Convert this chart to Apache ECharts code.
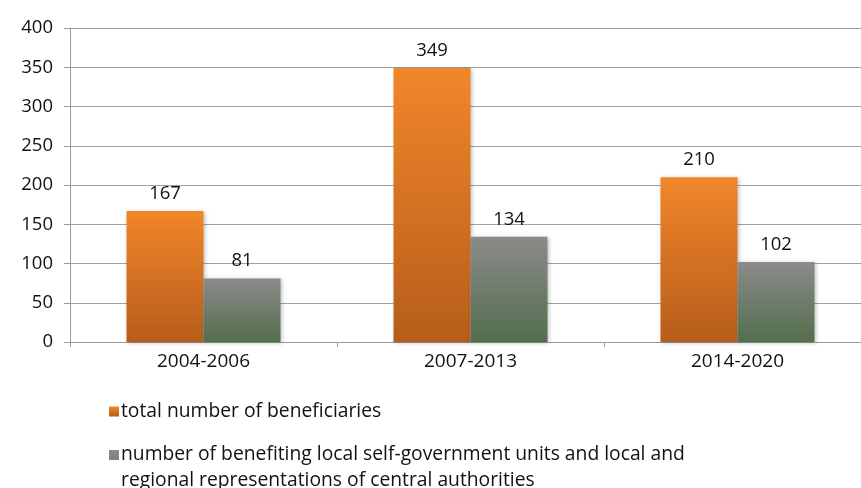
<!DOCTYPE html>
<html><head><meta charset="utf-8">
<script src="https://cdn.jsdelivr.net/npm/echarts@6/dist/echarts.min.js"></script>
<style>html,body{margin:0;padding:0;background:#fff}#c{width:861px;height:488px}</style>
</head><body><div id="c"></div>
<script>
const categories = ['2004-2006', '2007-2013', '2014-2020'];
const totalBeneficiaries = [167, 349, 210];
const localUnits = [81, 134, 102];
const seriesNames = ['total number of beneficiaries', 'number of benefiting local self-government units and local and regional representations of central authorities'];
const legendLines = ['number of benefiting local self-government units and local and', 'regional representations of central authorities'];
const yTicks = {min: 0, max: 400, interval: 50};

const font = '"Open Sans", "Noto Sans", sans-serif';
const chart = echarts.init(document.getElementById('c'), null, {renderer: 'canvas'});
const grad = (a, b) => new echarts.graphic.LinearGradient(0, 0, 0, 1, [{offset: 0, color: a}, {offset: 1, color: b}]);
chart.setOption({
  animation: false,
  grid: {left: 70, width: 801, top: 28, bottom: 146, containLabel: false, outerBoundsMode: 'none'},
  legend: [{
    data: [seriesNames[0]],
    left: 104, top: 397, orient: 'vertical',
    itemWidth: 10, itemHeight: 10, icon: 'rect',
    textStyle: {fontFamily: font, fontSize: 19.3, color: '#111', padding: [0, 0, 0, -3]}
  }, {
    data: [seriesNames[1]],
    left: 104, top: 437, orient: 'vertical',
    itemWidth: 10, itemHeight: 36,
    icon: 'path://M0,0h10v10h-10z M0,36h0.01v0.01z',
    formatter: () => legendLines.join('\n'),
    textStyle: {fontFamily: font, fontSize: 19.3, color: '#111', lineHeight: 26, padding: [0, 0, 0, -3]}
  }],
  xAxis: {
    type: 'category', data: categories,
    axisLine: {lineStyle: {color: '#9a9a9a', width: 1}},
    axisTick: {show: true, length: 5, lineStyle: {color: '#9a9a9a'}},
    axisLabel: {fontFamily: font, fontSize: 19, color: '#111', margin: 10}
  },
  yAxis: {
    type: 'value', min: yTicks.min, max: yTicks.max, interval: yTicks.interval,
    axisLine: {show: true, lineStyle: {color: '#9a9a9a', width: 1}},
    axisTick: {show: true, length: 6, lineStyle: {color: '#9a9a9a'}},
    splitLine: {lineStyle: {color: '#a0a0a0', width: 1}},
    axisLabel: {fontFamily: font, fontSize: 18.5, color: '#111', margin: 17}
  },
  series: [{
    name: seriesNames[0], type: 'bar', data: totalBeneficiaries,
    barWidth: 77, barGap: '0%',
    itemStyle: {color: grad('#f2862a', '#b65d1b'), shadowColor: 'rgba(0,0,0,0.25)', shadowBlur: 4, shadowOffsetX: 1, shadowOffsetY: 1},
    label: {show: true, position: 'top', distance: 8, fontFamily: font, fontSize: 18.5, color: '#111'}
  }, {
    name: seriesNames[1], type: 'bar', data: localUnits,
    barWidth: 77,
    itemStyle: {color: grad('#8b8b8b', '#536e4d'), shadowColor: 'rgba(0,0,0,0.25)', shadowBlur: 4, shadowOffsetX: 1, shadowOffsetY: 1},
    label: {show: true, position: 'top', distance: 8, fontFamily: font, fontSize: 18.5, color: '#111'}
  }]
});
</script></body></html>
